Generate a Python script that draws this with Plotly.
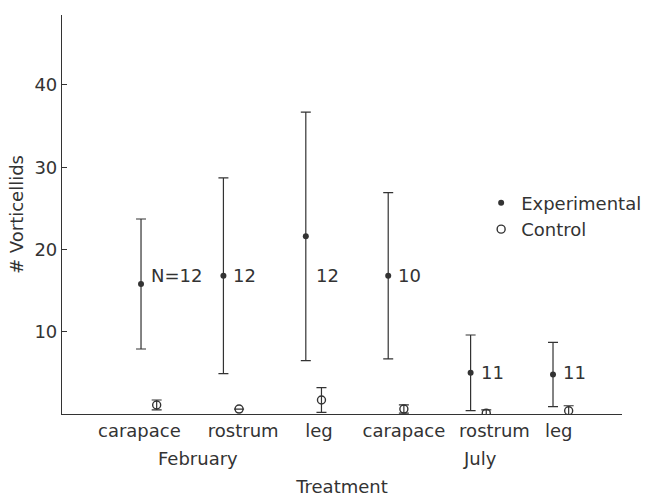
import plotly.graph_objects as go

# ---- data ----
categories = ["carapace", "rostrum", "leg", "carapace", "rostrum", "leg"]
months = ["February", "July"]
exp_mean = [15.8, 16.8, 21.6, 16.8, 5.0, 4.8]
exp_sd = [7.9, 11.9, 15.1, 10.1, 4.6, 3.9]
ctrl_mean = [1.1, 0.6, 1.7, 0.6, 0.1, 0.4]
ctrl_sd = [0.6, 0.0, 1.5, 0.5, 0.4, 0.6]
n_labels = ["N=12", "12", "12", "10", "11", "11"]
n_label_y = [16.8, 16.8, 16.8, 16.8, 5.0, 5.0]
y_ticks = [10, 20, 30, 40]

# ---- layout helpers (positions / styles) ----
ink = "#333333"
font_family = "DejaVu Sans"
x_exp = list(range(len(categories)))
ctrl_offset = 0.19
x_ctrl = [x + ctrl_offset for x in x_exp]
label_nudge = [-0.02, 0.24, 0.16, 0.19, 0.29, 0.07]
month_x = [0.69, 4.11]

fig = go.Figure()

fig.add_trace(go.Scatter(
    x=x_exp, y=exp_mean, mode="markers", name="Experimental",
    marker=dict(symbol="circle", size=6, color=ink),
    error_y=dict(type="data", array=exp_sd, visible=True,
                 color=ink, thickness=1.2, width=5),
))
fig.add_trace(go.Scatter(
    x=x_ctrl, y=ctrl_mean, mode="markers", name="Control",
    marker=dict(symbol="circle-open", size=8, color=ink, line=dict(width=1.4, color=ink)),
    error_y=dict(type="data", array=ctrl_sd, visible=True,
                 color=ink, thickness=1.2, width=5),
))

annotations = []
for x, y, t in zip(x_exp, n_label_y, n_labels):
    annotations.append(dict(x=x, y=y, text=t, showarrow=False, xanchor="left",
                            yanchor="middle", xshift=8,
                            font=dict(family=font_family, size=18, color=ink)))
for mx, m in zip(month_x, months):
    annotations.append(dict(x=mx, y=0, yref="paper", text=m, showarrow=False,
                            xanchor="center", yanchor="middle", yshift=-44,
                            font=dict(family=font_family, size=18, color=ink)))

fig.update_layout(
    width=654, height=497,
    margin=dict(l=62, r=0, t=15, b=83),
    paper_bgcolor="white", plot_bgcolor="white",
    font=dict(family=font_family, size=18, color=ink),
    showlegend=True,
    legend=dict(x=0.708, y=0.575, xanchor="left", yanchor="top",
                bgcolor="rgba(0,0,0,0)", font=dict(size=18, color=ink),
                itemwidth=30, tracegroupgap=0),
    annotations=annotations,
    xaxis=dict(
        domain=[0, 0.9459],
        range=[-0.959, 5.837],
        tickvals=[x + d for x, d in zip(x_exp, label_nudge)],
        ticktext=categories,
        ticks="", ticklen=0, showgrid=False, zeroline=False, automargin=False,
        showline=True, linecolor=ink, linewidth=1.2,
        tickfont=dict(size=18, color=ink),
        title=dict(text="Treatment", standoff=41, font=dict(size=18, color=ink)),
    ),
    yaxis=dict(
        range=[0, 48.5],
        tickvals=y_ticks,
        ticks="inside", ticklen=5, tickcolor=ink, tickwidth=1,
        showgrid=False, zeroline=False, automargin=False,
        showline=True, linecolor=ink, linewidth=1.2,
        tickfont=dict(size=18, color=ink),
        title=dict(text="# Vorticellids", standoff=6, font=dict(size=18, color=ink)),
    ),
)

fig.write_html("out.html",
               config={"displayModeBar": False},
               post_script="document.body.style.margin='0px';document.body.style.overflow='hidden';")
